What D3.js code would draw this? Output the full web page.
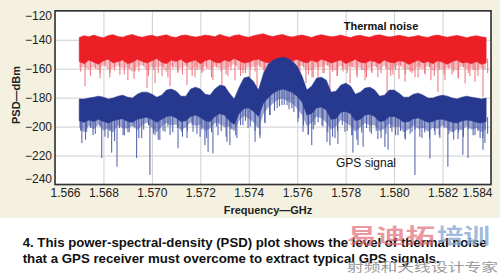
<!DOCTYPE html>
<html><head><meta charset="utf-8">
<script src="https://cdn.jsdelivr.net/npm/d3@7"></script>
<style>body{margin:0;background:#fff}svg{display:block}</style>
</head><body>
<svg id="c" width="500" height="277"></svg>
<script>
// ---------- data ----------
const freqStart = 1.5670, freqStep = 0.0002, nSamples = 85;
const sampleFreqs = d3.range(nSamples).map(i => +(freqStart + i * freqStep).toFixed(4));
const xTicks = [1.566, 1.568, 1.570, 1.572, 1.574, 1.576, 1.578, 1.580, 1.582, 1.584];
const yTicks = [-120, -140, -160, -180, -200, -220, -240];

// Thermal noise (dBm): upper envelope, dense-core bottom, spike bottom per sample
const noiseTop = [
 -138.5,-137.2,-138,-136.8,-137.9,-138.6,-137.1,-136.5,-137.8,-138.2,
 -137,-136.4,-137.6,-138.3,-137.4,-136.9,-138,-137.3,-136.6,-137.9,
 -138.4,-137.1,-136.7,-137.5,-138.1,-137.6,-136.8,-137.2,-138,-136.3,
 -137.4,-138.2,-137,-136.6,-137.7,-138.3,-137.2,-136.5,-135.9,-137.1,
 -137.8,-136.9,-136.4,-137.5,-138.1,-137.3,-136.7,-137.6,-138.4,-137.2,
 -136.5,-137.3,-138,-137.5,-136.8,-137.7,-138.5,-137.4,-136.9,-137.8,
 -138.2,-137,-136.6,-137.4,-138.1,-137.6,-136.9,-137.5,-138.3,-137.8,
 -137.1,-137.9,-138.4,-137.3,-136.8,-137.6,-138.2,-137.5,-137,-137.8,
 -138.6,-137.7,-137.2,-138,-138.5];
const noiseCore = [
 -155,-156.5,-154,-155.5,-157,-154.5,-153.5,-156,-155,-154,
 -156.5,-155.5,-153.5,-155,-156,-154.5,-153,-155.5,-156.5,-154,
 -155,-153.5,-156,-155,-154,-156.5,-154.5,-153.5,-155.5,-156,
 -154,-155,-153,-154.5,-156,-155.5,-154,-153.5,-155,-156,
 -154.5,-153,-154,-155.5,-154.5,-153.5,-155,-156,-154,-155.5,
 -153.5,-154.5,-156,-155,-154,-156.5,-155,-153.5,-155.5,-156,
 -154.5,-155,-156.5,-154,-155.5,-156,-154.5,-155,-157,-155.5,
 -154,-156,-155,-156.5,-154.5,-155.5,-157,-155,-154,-156,
 -155.5,-156.5,-155,-157,-156];
const noiseSpike = [
 -162,-159,-165,-160,-163,-158,-166,-161,-159,-164,
 -160,-167,-162,-158,-165,-161,-163,-159,-166,-160,
 -162,-164,-158,-165,-161,-163,-160,-166,-159,-162,
 -164,-161,-158,-165,-163,-160,-162,-159,-164,-161,
 -163,-160,-158,-162,-165,-161,-159,-164,-166,-160,
 -163,-158,-162,-165,-160,-163,-159,-164,-161,-166,
 -162,-159,-163,-160,-165,-161,-158,-164,-162,-166,
 -160,-163,-159,-165,-161,-164,-160,-162,-166,-159,
 -163,-161,-165,-160,-163];
const noiseExtraFreq = [1.56724,1.56786,1.56827,1.56868,1.56901,1.56930,1.56980,1.57013,1.57042,1.57075,
 1.57108,1.57145,1.57178,1.57211,1.57252,1.57289,1.57314,1.57343,1.57376,1.57405,1.57434,1.57463,
 1.57611,1.57636,1.57661,1.57686,1.57711,1.57735,1.57764,1.57789,1.57818,1.57847,1.57880,1.57909,
 1.57933,1.57971,1.57995,1.58020,1.58045,1.58074,1.58099,1.58128,1.58152,1.58181,1.58210,1.58239,
 1.58264,1.58293,1.58313,1.58334,1.58367];
const noiseExtraDb = [-172,-166.6,-163,-164.5,-168,-162,-173.4,-170,-165,-172,
 -163,-171.4,-166,-162,-168,-171.4,-165,-168,-163,-166,-172.5,-167,
 -164,-170,-166,-168,-163,-174.8,-165,-162,-170,-166,-168,-163,
 -166,-178.3,-164,-167,-169,-163,-166,-164,-168,-176,-168,-164,
 -167,-170.2,-165,-169,-179.4];

// GPS signal (dBm)
const gpsTop = [
 -181,-181,-180.3,-179.7,-179,-179.7,-181,-180.3,-179,-178.3,
 -179.7,-180.3,-177.6,-176.2,-176.2,-177.6,-179.7,-178.3,-174.8,-174.1,
 -175.5,-179,-179,-174.1,-172.8,-174.1,-177.6,-178.3,-174.1,-171.4,
 -172,-176.9,-181,-173,-166.5,-165.5,-169,-174.8,-163.8,-156.9,
 -154.1,-152.8,-152.1,-152.8,-154.8,-158.3,-165.2,-174.8,-172,-166.6,
 -165.9,-167.9,-176.2,-175.5,-171.4,-170,-172,-177.6,-176.2,-173.4,
 -172.8,-174.8,-179,-178.3,-174.8,-174.8,-176.9,-179.7,-179.7,-177.6,
 -176.9,-178.3,-180.3,-180.3,-179,-178.3,-179,-180.3,-181,-179.7,
 -179,-179.7,-180.3,-181,-180.3];
const gpsCore = [
 -196,-197,-195.5,-196.5,-195,-196.5,-197.5,-196,-195,-194.5,
 -196.5,-197,-195,-194,-193.5,-195,-197,-195,-193,-192.5,
 -194,-196.5,-196,-193,-192,-193.5,-196,-196.5,-193,-191,
 -192,-196,-198.5,-191,-187.5,-187,-189.5,-193,-184,-180,
 -177,-175,-174,-175,-176.5,-179,-183,-192,-191,-187,
 -186.5,-188.5,-195,-194.5,-190,-189.5,-191,-196,-195,-192,
 -191.5,-193,-196.5,-196,-193,-193,-194.5,-197,-196.5,-194.5,
 -194,-195.5,-197,-196.5,-195,-195,-196,-197,-197.5,-196,
 -195.5,-196,-197,-197.5,-196.5];
const gpsSpike = [
 -203,-209,-201,-205,-200,-207,-203,-210,-201,-206,
 -204,-200,-208,-202,-199,-205,-209,-203,-200,-204,
 -201,-207,-203,-199,-205,-202,-208,-204,-200,-203,
 -207,-202,-206,-199,-196,-200,-203,-208,-197,-192,
 -189,-186,-185,-188,-190,-194,-199,-205,-202,-197,
 -200,-204,-207,-203,-199,-203,-206,-209,-204,-201,
 -205,-203,-208,-205,-201,-206,-203,-209,-205,-202,
 -207,-204,-208,-203,-206,-201,-205,-209,-204,-207,
 -202,-206,-203,-208,-205];
const gpsExtraFreq = [1.56711,1.56731,1.56757,1.56793,1.56819,1.56834,1.56856,1.56881,1.56901,1.56937,1.56958,
 1.56992,1.57013,1.57033,1.57054,1.57075,1.57108,1.57124,1.57145,1.57170,1.57199,1.57219,1.57232,1.57252,
 1.57273,1.57310,1.57322,1.57351,1.57376,1.57397,1.57426,1.57446,1.57467,1.57488,1.57517,1.57537,
 1.57558,1.57578,1.57603,1.57624,1.57645,1.57660,1.57673,1.57702,1.57723,1.57735,1.57756,1.57768,1.57797,1.57826,1.57830,
 1.57851,1.57872,1.57900,1.57933,1.57962,1.57975,1.57991,1.58016,1.58045,1.58074,1.58086,1.58115,
 1.58148,1.58169,1.58189,1.58222,1.58243,1.58264,1.58284,1.58305,1.58334,1.58355,1.58367,1.58375];
const gpsExtraDb = [-211.4,-203.6,-205.9,-221.7,-207.9,-218,-227.7,-205.9,-203.6,-221.7,-207.9,
 -233.4,-205.9,-209.3,-203.6,-205.9,-215,-203.6,-207.9,-203.6,-207,-212.8,-217.4,-218.5,
 -205.9,-210.5,-212.8,-208,-199,-201,-210.5,-205.9,-197.6,-192,-187.2,-185.2,
 -185.2,-187.4,-196.7,-203.6,-205.9,-212.8,-199,-199,-210.5,-213,-207.9,-212,-203.6,-205.9,-218,
 -212.8,-214,-203.6,-208.6,-214,-216,-203.6,-205.9,-207.9,-203.6,-233.4,-207.9,
 -222,-205.9,-207.9,-227.7,-203.6,-208.6,-219.5,-221.7,-205.9,-207.9,-216,-211.4];

// ---------- drawing ----------
const svg = d3.select('#c');
const FONT = '"Liberation Sans", Arial, Helvetica, sans-serif';
const L = 55, R = 491, T = 10.8, B = 184.5;
const x = d3.scaleLinear().domain([1.566, 1.584]).range([L, R]);
const y = d3.scaleLinear().domain([-240, -120]).range([B, T]);

svg.append('rect').attr('width', 500).attr('height', 218).attr('fill', '#f5f1e1');
svg.append('rect').attr('x', L).attr('y', T).attr('width', R - L).attr('height', B - T).attr('fill', '#fff');

// grid
const gx = svg.append('g').attr('transform', `translate(0,${B})`)
  .call(d3.axisBottom(x).tickValues(xTicks).tickSize(-(B - T)).tickFormat(''));
gx.select('.domain').remove();
gx.selectAll('line').attr('stroke', '#cfcfcf').attr('stroke-width', 1);
const gy = svg.append('g').attr('transform', `translate(${L},0)`)
  .call(d3.axisLeft(y).tickValues(yTicks).tickSize(-(R - L)).tickFormat(''));
gy.select('.domain').remove();
gy.selectAll('line').attr('stroke', '#cfcfcf').attr('stroke-width', 1);

svg.append('clipPath').attr('id', 'clip').append('rect')
  .attr('x', L).attr('y', T).attr('width', R - L).attr('height', B - T);
const plot = svg.append('g').attr('clip-path', 'url(#clip)');

function idx(f) { return Math.max(0, Math.min(nSamples - 1, Math.round((f - freqStart) / freqStep))); }

function drawSeries(top, core, spike, exF, exD, coreColor, spikeColor, fringeOpacity) {
  const g = plot.append('g');
  const pts = sampleFreqs.map((f, i) => ({ f, t: top[i], c: core[i], s: spike[i] }));
  // faint fringe between core bottom and spike depth
  g.append('path').datum(pts)
    .attr('d', d3.area().x(d => x(d.f)).y0(d => y((d.s + d.c) / 2 - 1)).y1(d => y(d.c + 2)))
    .attr('fill', spikeColor).attr('fill-opacity', fringeOpacity);
  g.append('g').selectAll('line').data(exF.map((f, i) => ({ f, d: exD[i] }))).join('line')
    .attr('x1', d => x(d.f)).attr('x2', d => x(d.f))
    .attr('y1', d => y(core[idx(d.f)] + 4)).attr('y2', d => y(d.d))
    .attr('stroke', spikeColor).attr('stroke-width', 1);
  g.append('g').selectAll('line').data(pts).join('line')
    .attr('x1', d => x(d.f) + 1.5).attr('x2', d => x(d.f) + 1.5)
    .attr('y1', d => y(d.c + 3)).attr('y2', d => y(d.s))
    .attr('stroke', spikeColor).attr('stroke-width', 1);
  g.append('path').datum(pts)
    .attr('d', d3.area().x(d => x(d.f)).y0(d => y(d.c)).y1(d => y(d.t)))
    .attr('fill', coreColor).attr('stroke', coreColor).attr('stroke-width', 0.6);
}
drawSeries(noiseTop, noiseCore, noiseSpike, noiseExtraFreq, noiseExtraDb, '#ec1f27', '#ee6f78', 0.45);
drawSeries(gpsTop, gpsCore, gpsSpike, gpsExtraFreq, gpsExtraDb, '#27398f', '#4a5ba8', 0.55);

// frame
svg.append('rect').attr('x', L).attr('y', T).attr('width', R - L).attr('height', B - T)
  .attr('fill', 'none').attr('stroke', '#333').attr('stroke-width', 1.6);

// axes labels
const ax = svg.append('g').attr('transform', `translate(0,${B})`)
  .call(d3.axisBottom(x).tickValues(xTicks).tickSize(0).tickPadding(4).tickFormat(d3.format('.3f')));
ax.select('.domain').remove();
ax.selectAll('text').attr('font-family', FONT).attr('font-size', 12).attr('fill', '#222')
  .attr('dx', (d, i) => i === 0 ? 10 : (i === xTicks.length - 1 ? -14 : 0));
const ay = svg.append('g').attr('transform', `translate(${L},0)`)
  .call(d3.axisLeft(y).tickValues(yTicks).tickSize(0).tickPadding(3).tickFormat(d3.format('d')));
ay.select('.domain').remove();
ay.selectAll('text').attr('font-family', FONT).attr('font-size', 12).attr('fill', '#222')
  .attr('dy', '0.32em')
  .attr('transform', (d, i) => i === 0 ? 'translate(0,4.5)' : (i === yTicks.length - 1 ? 'translate(0,-5.5)' : null));

svg.append('text').attr('x', 268).attr('y', 214).attr('text-anchor', 'middle')
  .attr('font-family', FONT).attr('font-weight', 'bold').attr('font-size', 11).attr('fill', '#222')
  .text('Frequency—GHz');
svg.append('text').attr('transform', 'translate(20,95) rotate(-90)').attr('text-anchor', 'middle')
  .attr('font-family', FONT).attr('font-weight', 'bold').attr('font-size', 11).attr('fill', '#222')
  .text('PSD—dBm');
svg.append('text').attr('x', 381).attr('y', 30).attr('text-anchor', 'middle')
  .attr('font-family', FONT).attr('font-weight', 'bold').attr('font-size', 11).attr('fill', '#111')
  .text('Thermal noise');
svg.append('text').attr('x', 366).attr('y', 167).attr('text-anchor', 'middle')
  .attr('font-family', FONT).attr('font-size', 12).attr('fill', '#111')
  .text('GPS signal');

// caption
svg.append('text').attr('x', 22.7).attr('y', 246.5).attr('font-family', FONT).attr('font-weight', 'bold')
  .attr('font-size', 13).attr('fill', '#111').attr('textLength', 464).attr('lengthAdjust', 'spacingAndGlyphs')
  .text('4. This power-spectral-density (PSD) plot shows the level of thermal noise');
svg.append('text').attr('x', 22.7).attr('y', 262.5).attr('font-family', FONT).attr('font-weight', 'bold')
  .attr('font-size', 13).attr('fill', '#111').attr('textLength', 417).attr('lengthAdjust', 'spacingAndGlyphs')
  .text('that a GPS receiver must overcome to extract typical GPS signals.');

// watermark (overlaps the caption as in the reference)
const CJK = '"Noto Sans CJK SC", sans-serif';
svg.append('text').attr('x', 347).attr('y', 243).attr('font-family', CJK).attr('font-weight', 'bold')
  .attr('font-size', 21).attr('fill', '#e06a74').attr('fill-opacity', 0.7)
  .attr('textLength', 88).attr('lengthAdjust', 'spacingAndGlyphs').text('易迪拓');
svg.append('text').attr('x', 437).attr('y', 243).attr('font-family', CJK).attr('font-weight', 'bold')
  .attr('font-size', 21).attr('fill', '#86a9d2').attr('fill-opacity', 0.8)
  .attr('textLength', 53).attr('lengthAdjust', 'spacingAndGlyphs').text('培训');
svg.append('text').attr('x', 347).attr('y', 272).attr('font-family', CJK)
  .attr('font-size', 12).attr('fill', '#9a9a9a')
  .attr('textLength', 151).attr('lengthAdjust', 'spacingAndGlyphs').text('射频和天线设计专家');
</script>
</body></html>
